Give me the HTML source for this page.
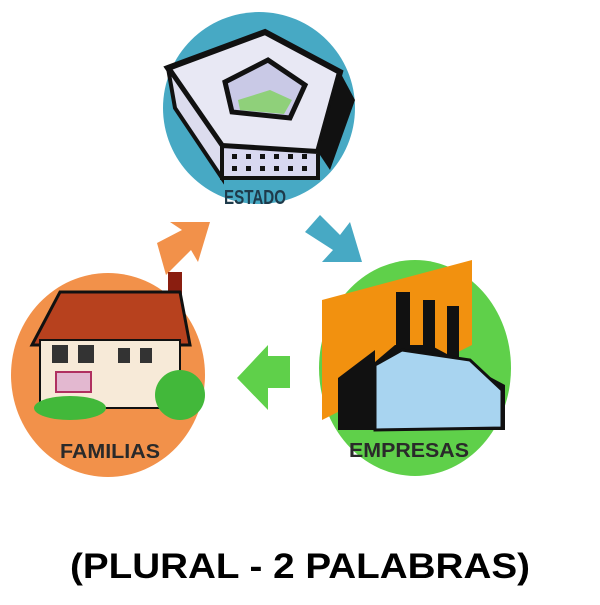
<!DOCTYPE html>
<html><head><meta charset="utf-8"><style>
body{margin:0;background:#fff;width:600px;height:600px;overflow:hidden}
svg text{font-family:"Liberation Sans",sans-serif;font-weight:bold}
</style></head><body>
<svg width="600" height="600" viewBox="0 0 600 600">
<!-- ESTADO -->
<circle cx="259" cy="108" r="96" fill="#47a9c4"/>
<polygon points="168,68 265,32 340,72 318,152 222,146" fill="#e8e8f4" stroke="#111" stroke-width="6"/>
<polygon points="168,68 222,146 222,178 175,108" fill="#dcdcee" stroke="#111" stroke-width="4"/>
<polygon points="222,146 318,152 318,178 222,178" fill="#d8d8f0" stroke="#111" stroke-width="4"/>
<polygon points="318,152 340,72 355,100 330,170" fill="#111"/>
<polygon points="225,82 268,60 305,85 290,118 232,112" fill="#c9c9e6" stroke="#111" stroke-width="5"/>
<polygon points="238,100 270,90 292,100 284,114 240,110" fill="#8fd07a"/>
<g fill="#111">
<rect x="232" y="154" width="5" height="5"/><rect x="246" y="154" width="5" height="5"/><rect x="260" y="154" width="5" height="5"/><rect x="274" y="154" width="5" height="5"/><rect x="288" y="154" width="5" height="5"/><rect x="302" y="154" width="5" height="5"/>
<rect x="232" y="166" width="5" height="5"/><rect x="246" y="166" width="5" height="5"/><rect x="260" y="166" width="5" height="5"/><rect x="274" y="166" width="5" height="5"/><rect x="288" y="166" width="5" height="5"/><rect x="302" y="166" width="5" height="5"/>
</g>
<text x="224" y="204" font-size="20" fill="#1e3a4a" textLength="62" lengthAdjust="spacingAndGlyphs">ESTADO</text>
<!-- arrows -->
<polygon points="305,232 320,215 340,235 350,222 362,262 322,262 333,250" fill="#47a9c4"/>
<polygon points="157,243 182,230 170,222 210,222 198,262 191,250 166,275" fill="#f2914a"/>
<polygon points="290,356 290,388 268,388 268,410 237,378 268,345 268,356" fill="#5fd04a"/>
<!-- FAMILIAS -->
<ellipse cx="108" cy="375" rx="97" ry="102" fill="#f2914a"/>
<rect x="168" y="272" width="14" height="60" fill="#8a1e10"/>
<polygon points="32,345 60,292 180,292 190,345" fill="#b7411e" stroke="#111" stroke-width="3"/>
<rect x="40" y="340" width="140" height="68" fill="#f7ead8" stroke="#111" stroke-width="2"/>
<g fill="#333"><rect x="52" y="345" width="16" height="18"/><rect x="78" y="345" width="16" height="18"/><rect x="118" y="348" width="12" height="15"/><rect x="140" y="348" width="12" height="15"/></g>
<rect x="56" y="372" width="35" height="20" fill="#e3b8d0" stroke="#b03060" stroke-width="2"/>
<ellipse cx="70" cy="408" rx="36" ry="12" fill="#42b83a"/>
<circle cx="180" cy="395" r="25" fill="#42b83a"/>
<text x="60" y="458" font-size="20" fill="#2a2a2a" textLength="100" lengthAdjust="spacingAndGlyphs">FAMILIAS</text>
<!-- EMPRESAS -->
<ellipse cx="415" cy="368" rx="96" ry="108" fill="#5fd04a"/>
<polygon points="322,300 472,260 472,345 322,420" fill="#f2910f"/>
<g fill="#111"><rect x="396" y="292" width="14" height="70"/><rect x="423" y="300" width="12" height="60"/><rect x="447" y="306" width="12" height="55"/></g>
<polygon points="338,378 375,350 375,362 395,345 430,345 505,385 505,430 338,430" fill="#111"/>
<polygon points="375,365 402,350 470,360 502,390 502,428 375,430" fill="#a8d4f0" stroke="#111" stroke-width="3"/>
<text x="349" y="457" font-size="20" fill="#2a2a2a" textLength="120" lengthAdjust="spacingAndGlyphs">EMPRESAS</text>
<!-- bottom -->
<text x="70" y="578" font-size="35" fill="#000" textLength="460" lengthAdjust="spacingAndGlyphs">(PLURAL - 2 PALABRAS)</text>
</svg>
</body></html>
